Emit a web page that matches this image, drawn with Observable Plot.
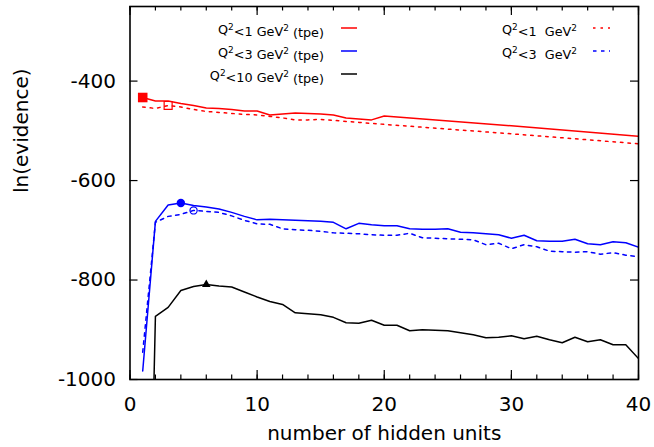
<!DOCTYPE html>
<html><head><meta charset="utf-8">
<script src="https://cdn.jsdelivr.net/npm/d3@7"></script>
<script src="https://cdn.jsdelivr.net/npm/@observablehq/plot@0.6"></script>
<style>body{margin:0;background:#fff}</style>
</head><body><div id="chart"></div>
<script>
// ---- data ----
const xTpe1 = [1,2,3,4,5,6,7,8,9,10,11,12,13,14,15,16,17,18,19,20,30,40];
const yTpe1 = [-433,-440,-440,-445,-449,-454,-455,-457,-460,-460,-468,-466,-464,-465,-466,-468,-474,-476,-478,-470,-490,-511];

const xQ1 = [1,2,3,4,5,6,7,8,9,10,11,12,13,14,15,16,17,18,19,20,30,40];
const yQ1 = [-452,-455,-449,-452,-457,-461,-463,-465,-467,-468,-471,-474,-478,-478,-477,-479,-481,-483,-485,-487,-506,-526];

const xTpe3 = [1,2,3,4,5,6,7,8,9,10,11,12,13,14,15,16,17,18,19,20,21,22,23,24,25,26,27,28,29,30,31,32,33,34,35,36,37,38,39,40];
const yTpe3 = [-983,-682,-649,-645,-650,-653,-657,-664,-672,-679,-678,-679,-680,-681,-682,-684,-697,-686,-689,-691,-691,-697,-698,-698,-697,-704,-705,-707,-709,-716,-710,-721,-722,-722,-718,-727,-729,-723,-725,-734];

const xQ3 = [1,2,3,4,5,6,7,8,9,10,11,12,13,14,15,16,17,18,19,20,21,22,23,24,25,26,27,28,29,30,31,32,33,34,35,36,37,38,39,40];
const yQ3 = [-945,-684,-672,-668,-660,-662,-664,-671,-680,-687,-688,-697,-699,-700,-702,-705,-706,-707,-709,-710,-710,-706,-715,-716,-717,-718,-719,-729,-726,-737,-729,-733,-742,-743,-744,-743,-748,-745,-750,-753];

const xTpe10 = [1,2,3,4,5,6,7,8,9,10,11,12,13,14,15,16,17,18,19,20,21,22,23,24,25,26,27,28,29,30,31,32,33,34,35,36,37,38,39,40];
const yTpe10 = [-2000,-873,-855,-821,-813,-809,-812,-814,-824,-834,-843,-849,-866,-868,-870,-875,-886,-887,-881,-891,-891,-902,-900,-901,-902,-906,-910,-916,-915,-912,-918,-913,-920,-926,-915,-924,-920,-930,-930,-958];

const seriesNames  = ["Q²<1 GeV² (tpe)", "Q²<3 GeV² (tpe)", "Q²<10 GeV² (tpe)", "Q²<1  GeV²", "Q²<3  GeV²"];
const seriesColors = ["#ff0000", "#0000ff", "#000000", "#ff0000", "#0000ff"];
const seriesDash   = [null, null, null, "2.5,5", "3.5,4.5"];
const seriesSymbol = ["square", "circle", "triangle", "square", "circle"];
const seriesFilled = [true, true, true, false, false];
const seriesSize   = [5.4, 4.2, 3.2, 4.5, 3.6];
const seriesX = [xTpe1, xTpe3, xTpe10, xQ1, xQ3];
const seriesY = [yTpe1, yTpe3, yTpe10, yQ1, yQ3];

const xMajor = [0,10,20,30,40];
const xMinor = [0,2,4,6,8,10,12,14,16,18,20,22,24,26,28,30,32,34,36,38,40];
const yMajor = [-1000,-800,-600,-400];
const xLabel = "number of hidden units";
const yLabel = "ln(evidence)";

// ---- layout ----
const W = 654, H = 447;
const mL = 129.5, mR = 16, mT = 6, mB = 68;
const ph = H - mT - mB, pw = W - mL - mR;
const FONT = "DejaVu Sans";

const series = seriesNames.map((name, i) => ({
  name, color: seriesColors[i], dash: seriesDash[i], symbol: seriesSymbol[i],
  filled: seriesFilled[i], r: seriesSize[i],
  rows: seriesX[i].map((x, j) => ({x, y: seriesY[i][j]}))
}));

const marks = [
  Plot.axisX({ticks: xMajor, tickSize: 0, tickPadding: 17, fontSize: 20, label: null, tickFormat: d => String(d)}),
  Plot.axisY({ticks: yMajor, tickSize: 0, tickPadding: 14, fontSize: 20, label: null, tickFormat: d => String(d)}),
  Plot.tickX(xMajor, {x: d => d, insetTop: ph - 9, stroke: "black", strokeWidth: 1.2}),
  Plot.tickX(xMajor, {x: d => d, insetBottom: ph - 9, stroke: "black", strokeWidth: 1.2}),
  Plot.tickX(xMinor, {x: d => d, insetTop: ph - 4.5, stroke: "black", strokeWidth: 1.2}),
  Plot.tickX(xMinor, {x: d => d, insetBottom: ph - 4.5, stroke: "black", strokeWidth: 1.2}),
  Plot.tickY(yMajor, {y: d => d, insetRight: pw - 8, stroke: "black", strokeWidth: 1.2}),
  Plot.tickY(yMajor, {y: d => d, insetLeft: pw - 8, stroke: "black", strokeWidth: 1.2}),
  Plot.text([xLabel], {frameAnchor: "bottom", dy: 60.5, fontSize: 20, text: d => d}),
  Plot.text([yLabel], {frameAnchor: "left", dx: -108, rotate: -90, fontSize: 20, text: d => d})
];

series.forEach(s => {
  marks.push(Plot.line(s.rows, {x: "x", y: "y", stroke: s.color, strokeWidth: 1.5,
    strokeDasharray: s.dash || undefined, clip: true}));
});
series.forEach(s => {
  const best = d3.greatest(s.rows, d => d.y);
  marks.push(Plot.dot([best], {x: "x", y: "y", symbol: s.symbol, r: s.r,
    fill: s.filled ? s.color : "white", fillOpacity: s.filled ? 1 : 0,
    stroke: s.color, strokeWidth: s.filled ? 0 : 1.2}));
});
marks.push(Plot.frame({stroke: "black", strokeWidth: 1.6}));

const plot = Plot.plot({
  width: W, height: H,
  marginLeft: mL, marginRight: mR, marginTop: mT, marginBottom: mB,
  style: {fontFamily: FONT, background: "white", color: "black"},
  x: {domain: [0, 40]},
  y: {domain: [-1000, -250]},
  marks
});

// ---- in-plot legend (gnuplot style key) ----
const svg = d3.select(plot);
const lg = svg.append("g").attr("font-family", FONT).attr("font-size", 12.8).attr("fill", "black");
const legendPos = [
  {tx: 324, lx1: 341, lx2: 357, ly: 28},
  {tx: 324, lx1: 341, lx2: 357, ly: 51},
  {tx: 324, lx1: 341, lx2: 357, ly: 74},
  {tx: 577, lx1: 593, lx2: 610, ly: 28},
  {tx: 577, lx1: 593, lx2: 610, ly: 51}
];
series.forEach((s, i) => {
  const p = legendPos[i];
  const t = lg.append("text").attr("x", p.tx).attr("y", p.ly + 5.8)
    .attr("text-anchor", "end").style("white-space", "pre");
  const parts = s.name.split("²");
  let raised = false;
  parts.forEach((part, k) => {
    if (part) {
      const sp = t.append("tspan").text(part);
      if (raised) { sp.attr("dy", "0.45em"); raised = false; }
    }
    if (k < parts.length - 1) {
      t.append("tspan").attr("font-size", "70%").attr("dy", raised ? null : "-0.45em").text("2");
      raised = true;
    }
  });
  lg.append("line").attr("x1", p.lx1).attr("x2", p.lx2).attr("y1", p.ly).attr("y2", p.ly)
    .attr("stroke", s.color).attr("stroke-width", 1.5)
    .attr("stroke-dasharray", s.dash || null);
});

document.getElementById("chart").appendChild(plot);
</script>
</body></html>
